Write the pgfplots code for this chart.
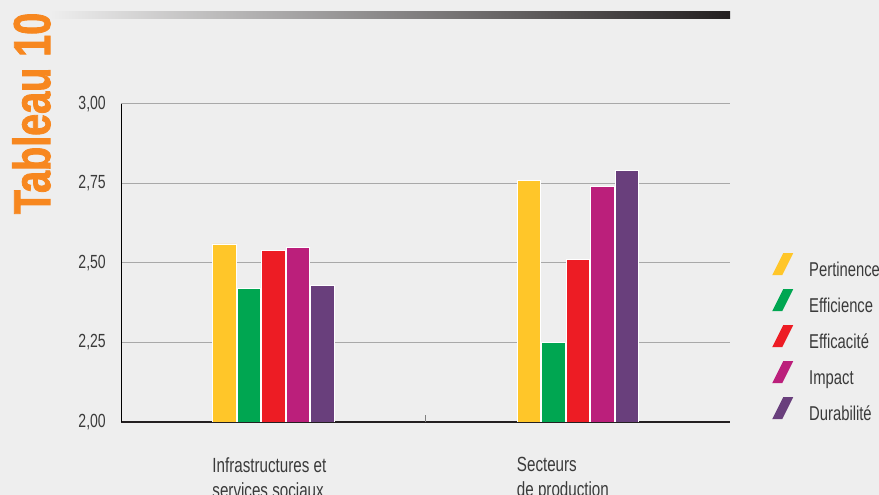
\documentclass[border=0pt]{standalone}
\usepackage{pgfplots}
\pgfplotsset{compat=1.18}
\usepackage{fontspec}
\setmainfont{Liberation Sans}[FakeStretch=0.74]
\newfontfamily\heavyfont{Liberation Sans Bold}[FakeStretch=0.76, FakeBold=1.6]
\definecolor{bg}{HTML}{EEEEEE}
\definecolor{cY}{HTML}{FFC629}
\definecolor{cG}{HTML}{00A651}
\definecolor{cR}{HTML}{ED1C24}
\definecolor{cM}{HTML}{BB1F7B}
\definecolor{cP}{HTML}{693F7C}
\definecolor{orng}{HTML}{F7871F}
\definecolor{txt}{HTML}{3A3A3A}
\definecolor{grd}{HTML}{A8A8A8}
\definecolor{dk}{HTML}{231F20}
\begin{document}
\begin{tikzpicture}[x=1pt,y=1pt]
\path[use as bounding box, fill=bg] (0,0) rectangle (879,495);
\shade[left color=bg, right color=dk] (50,476) rectangle (730,483);
\node[rotate=90, text=orng, font=\heavyfont\fontsize{52}{52}\selectfont, inner sep=0pt] at (31.5,381.5) {Tableau 10};
\begin{axis}[
  at={(121pt,73pt)}, anchor=south west,
  width=609pt, height=318pt, scale only axis,
  xmin=-0.5, xmax=1.5, ymin=2, ymax=3,
  ybar=1pt, bar width=23.5pt,
  axis x line=bottom, axis y line=left,
  axis line style={-},
  y axis line style={black, line width=0.7pt},
  x axis line style={dk, line width=1.1pt},
  ytick={2,2.25,2.5,2.75,3},
  ymajorgrids, grid style={grd, line width=1pt},
  major tick length=0pt,
  yticklabel={\pgfmathprintnumber[fixed,fixed zerofill,precision=2,use comma,assume math mode=true]{\tick}},
  yticklabel style={anchor=east, inner sep=0pt, xshift=-15pt, font=\fontsize{19}{22}\selectfont, text=txt},
  xtick={0,1},
  xticklabels={{Infrastructures et\\services sociaux},{Secteurs\\de production}},
  xticklabel style={anchor=north west, align=left, inner sep=0pt, xshift=-61pt, yshift=-35pt, font=\fontsize{20.5}{25}\selectfont, text=txt},
  extra x ticks={0.5}, extra x tick labels={},
  extra x tick style={major tick length=7pt, tick align=inside, tick style={gray, line width=0.8pt}},
  legend style={at={(axis description cs:1.069,0.262)}, anchor=west, draw=none, fill=none, inner sep=0pt, row sep=9pt, column sep=16pt, font=\fontsize{20}{24}\selectfont, text=txt, nodes={inner sep=0pt, text height=14pt, text depth=4pt}},
  legend cell align=left,
  legend image code/.code={\fill[#1, draw=none] (0pt,-4pt) -- (10pt,-4pt) -- (21pt,18pt) -- (11pt,18pt) -- cycle;},
]
\addplot[fill=cY, draw=white, line width=0.8pt] coordinates {(0,2.56) (1,2.76)};
\addplot[fill=cG, draw=white, line width=0.8pt] coordinates {(0,2.42) (1,2.25)};
\addplot[fill=cR, draw=white, line width=0.8pt] coordinates {(0,2.54) (1,2.51)};
\addplot[fill=cM, draw=white, line width=0.8pt] coordinates {(0,2.55) (1,2.74)};
\addplot[fill=cP, draw=white, line width=0.8pt] coordinates {(0,2.43) (1,2.79)};
\legend{Pertinence,Efficience,Efficacité,Impact,Durabilité}
\end{axis}
\end{tikzpicture}
\end{document}
